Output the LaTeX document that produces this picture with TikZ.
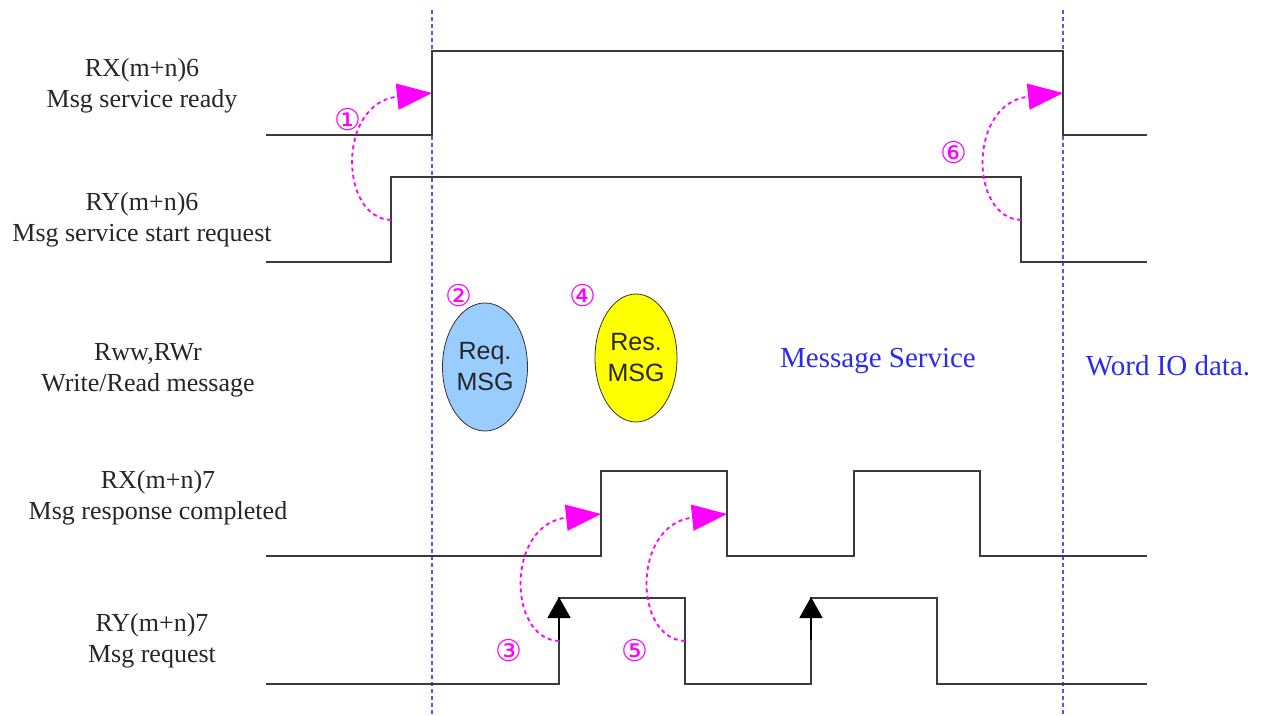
\documentclass[tikz,border=0pt]{standalone}
\usepackage{fontspec}
\setmainfont{Liberation Serif}
\setsansfont{Liberation Sans}
\newfontfamily\circfont{DejaVu Sans}
\usepackage{tikz}
\usetikzlibrary{arrows.meta,shapes.geometric}
\definecolor{WaveGray}{HTML}{3A3A3A}
\definecolor{GuideBlue}{HTML}{5555EE}
\definecolor{TextBlue}{HTML}{2B2BF0}
\definecolor{StepMagenta}{HTML}{FF00FF}
\definecolor{ReqBlue}{HTML}{99CCFF}
\definecolor{ResYellow}{HTML}{FFFF00}
\tikzset{
  wave/.style={draw=WaveGray,line width=1.6pt,line join=miter},
  guide/.style={draw=GuideBlue,line width=1.3pt,dash pattern=on 4pt off 3pt},
  siglabel/.style={align=center,font=\fontsize{26}{31}\selectfont,text=black!85},
  steparrow/.style={draw=StepMagenta,line width=1.8pt,dash pattern=on 4pt off 3.5pt,
    -{Triangle[length=35pt,width=26pt,fill=StepMagenta]}},
  stepnum/.style={font=\circfont\fontsize{30}{30}\selectfont,text=StepMagenta,inner sep=0pt},
  edgetip/.style={draw=black,line width=1.6pt,-{Triangle[length=21pt,width=23pt]}},
  msgbubble/.style={ellipse,draw=black!80,line width=0.8pt,minimum width=85pt,minimum height=128pt,
    align=center,font=\sffamily\fontsize{25}{31}\selectfont,text=black!85,inner sep=0pt},
  areatext/.style={font=\fontsize{29}{34}\selectfont,text=TextBlue},
}
\begin{document}
\begin{tikzpicture}[x=1pt,y=-1pt]
  \useasboundingbox (0,0) rectangle (1263,715);
  % signal names
  \node[siglabel] (l1) at (142,86) {RX(m+n)6\\Msg service ready};
  \node[siglabel] (l2) at (142,220) {RY(m+n)6\\Msg service start request};
  \node[siglabel] (l3) at (148,370) {Rww,RWr\\Write/Read message};
  \node[siglabel] (l4) at (158,498) {RX(m+n)7\\Msg response completed};
  \node[siglabel] (l5) at (152,641) {RY(m+n)7\\Msg request};
  % guides
  \draw[guide] (432,10) -- (432,715);
  \draw[guide] (1063,10) -- (1063,715);
  % waveforms
  \draw[wave] (266,135) -- (432,135) -- (432,51) -- (1063,51) -- (1063,135) -- (1147,135);
  \draw[wave] (266,262) -- (391,262) -- (391,177) -- (1021,177) -- (1021,262) -- (1147,262);
  \draw[wave] (266,556) -- (601,556) -- (601,471) -- (727,471) -- (727,556) -- (854,556)
    -- (854,471) -- (980,471) -- (980,556) -- (1147,556);
  \draw[wave] (266,684) -- (559,684) -- (559,598) -- (685,598) -- (685,684) -- (811,684)
    -- (811,598) -- (937,598) -- (937,684) -- (1147,684);
  \draw[edgetip] (559,640) -- (559,597);
  \draw[edgetip] (811,640) -- (811,597);
  % handshake
  \coordinate (s1) at (391,220);  \coordinate (e1) at (432,93);
  \coordinate (s3) at (559,641);  \coordinate (e3) at (601,514);
  \coordinate (s5) at (685,641);  \coordinate (e5) at (727,514);
  \coordinate (s6) at (1021,220); \coordinate (e6) at (1063,93);
  \draw[steparrow] (s1) .. controls +(-52,-2) and +(-95,10) .. (e1);
  \draw[steparrow] (s3) .. controls +(-52,-2) and +(-95,10) .. (e3);
  \draw[steparrow] (s5) .. controls +(-52,-2) and +(-95,10) .. (e5);
  \draw[steparrow] (s6) .. controls +(-52,-2) and +(-95,10) .. (e6);
  \node[stepnum] (n1) at (348,120) {①};
  \node[stepnum] (n2) at (459,296) {②};
  \node[stepnum] (n3) at (509,651) {③};
  \node[stepnum] (n4) at (583,296) {④};
  \node[stepnum] (n5) at (635,651) {⑤};
  \node[stepnum] (n6) at (954,153) {⑥};
  % messages
  \node[msgbubble,fill=ReqBlue] (req) at (485,367) {Req.\\MSG};
  \node[msgbubble,fill=ResYellow,minimum width=82pt] (res) at (636,358) {Res.\\MSG};
  \node[areatext] (svc) at (878,361) {Message Service};
  \node[areatext] (wio) at (1168,366) {Word IO data.};
\end{tikzpicture}
\end{document}
